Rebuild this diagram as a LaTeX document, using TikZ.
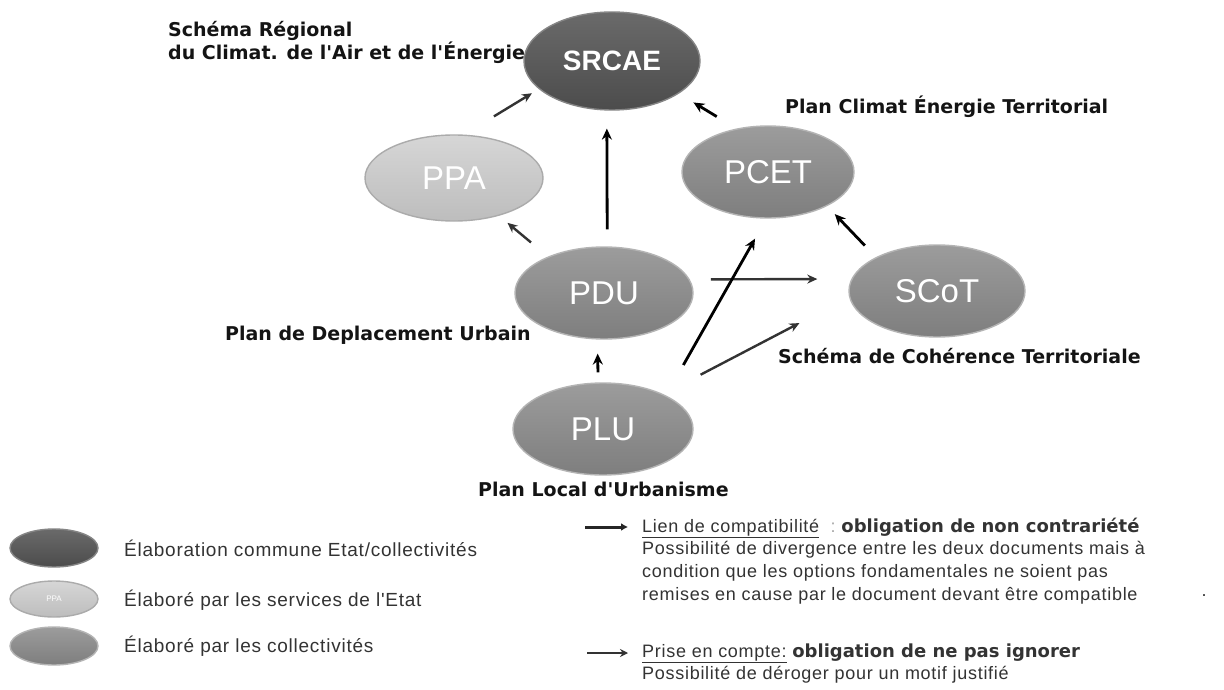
\documentclass[tikz,border=0pt]{standalone}
\usepackage{fontspec}
\setmainfont{Liberation Sans}
\newfontfamily\labfont{DejaVu Sans}
\newfontfamily\legfont{Liberation Sans}[LetterSpace=4]
\usetikzlibrary{shapes.geometric,arrows.meta}
\definecolor{ellDarkTop}{HTML}{6A6A6A}
\definecolor{ellDarkBot}{HTML}{4C4C4C}
\definecolor{ellDarkRim}{HTML}{858585}
\definecolor{ellMidTop}{HTML}{9C9C9C}
\definecolor{ellMidBot}{HTML}{7E7E7E}
\definecolor{ellMidRim}{HTML}{B4B4B4}
\definecolor{ellLightTop}{HTML}{D6D6D6}
\definecolor{ellLightBot}{HTML}{BDBDBD}
\definecolor{ellLightRim}{HTML}{ABABAB}
\definecolor{legText}{HTML}{333333}
\begin{document}
\begin{tikzpicture}[x=1pt,y=-1pt,
  ell/.style={ellipse, inner sep=0pt, text=white, line width=1.4pt},
  darkell/.style={ell, top color=ellDarkTop, bottom color=ellDarkBot, draw=ellDarkRim},
  midell/.style={ell, top color=ellMidTop, bottom color=ellMidBot, draw=ellMidRim},
  lightell/.style={ell, top color=ellLightTop, bottom color=ellLightBot, draw=ellLightRim},
  bigtxt/.style={font=\fontsize{33}{33}\selectfont},
  lab/.style={anchor=base west, inner sep=0pt, text=black!92, font=\labfont\bfseries\fontsize{19}{19}\selectfont},
  legtxt/.style={anchor=base west, inner sep=0pt, text=legText, font=\legfont\fontsize{18}{18}\selectfont},
  legtxtL/.style={anchor=base west, inner sep=0pt, text=legText, font=\legfont\fontsize{19}{19}\selectfont},
  compat/.style={line width=2.8pt, black, -{Stealth[length=11pt,width=10pt]}},
  prise/.style={line width=2.4pt, black!80, -{Stealth[length=10pt,width=9pt]}},
  legcompat/.style={line width=3pt, black!85, -{Latex[length=7pt,width=8pt]}},
  legprise/.style={line width=2.2pt, black!80, -{Stealth[length=8pt,width=8pt]}}
]
\useasboundingbox (0,0) rectangle (1224,690);
\fill[white] (0,0) rectangle (1224,690);

% main ellipses
\node[darkell, minimum width=176pt, minimum height=98pt] (SRCAE) at (612,61)
  {\bfseries\fontsize{28}{28}\selectfont SRCAE};
\node[lightell, minimum width=178pt, minimum height=86pt, bigtxt] (PPA) at (454,178) {PPA};
\node[midell, minimum width=172pt, minimum height=92pt, bigtxt] (PCET) at (768,172) {PCET};
\node[midell, minimum width=178pt, minimum height=92pt, bigtxt] (PDU) at (604,293) {PDU};
\node[midell, minimum width=176pt, minimum height=92pt, bigtxt] (SCoT) at (937,291) {SCoT};
\node[midell, minimum width=180pt, minimum height=92pt, bigtxt] (PLU) at (603,429) {PLU};

% labels
\node[lab] (lSR1) at (168,37) {Schéma Régional};
\node[lab] (lSR2) at (168,60) {du Climat. de l'Air et de l'Énergie};
\node[lab] (lPCET) at (785,114) {Plan Climat Énergie Territorial};
\node[lab] (lPDU) at (225,340) {Plan de Deplacement Urbain};
\node[lab] (lSCoT) at (778,363) {Schéma de Cohérence Territoriale};
\node[lab] (lPLU) at (478,496) {Plan Local d'Urbanisme};

% connectors
\draw[prise, shorten <=35pt, shorten >=8pt] (PPA.77) -- (SRCAE.201);
\draw[compat, shorten <=23pt, shorten >=17pt] (PCET.126) -- (SRCAE.334);
\draw[compat, shorten <=17pt, shorten >=18pt] (PDU.86) -- (SRCAE.264);
\draw[prise, shorten <=22pt, shorten >=11pt] (PDU.147) -- (PPA.320);
\draw[compat, shorten <=16pt, shorten >=11pt] (SCoT.151) -- (PCET.330);
\draw[prise, shorten <=21pt, shorten >=34pt] (PDU.9) -- (SCoT.172);
\draw[compat, shorten <=35pt, shorten >=23pt] (PLU.28) -- (PCET.268);
\draw[prise, shorten <=42pt, shorten >=56pt] (PLU.30) -- (SCoT.184);
\draw[compat, shorten <=10pt, shorten >=14pt] (PLU.96) -- (PDU.262);

% legend left
\node[darkell, minimum width=88pt, minimum height=38pt] (lgA) at (54,548) {};
\node[lightell, minimum width=88pt, minimum height=36pt] (lgB) at (54,599) {\fontsize{8}{8}\selectfont PPA};
\node[midell, minimum width=88pt, minimum height=38pt] (lgC) at (54,646) {};
\node[legtxtL] (tA) at (124,556) {Élaboration commune  Etat/collectivités};
\node[legtxtL] (tB) at (124,606) {Élaboré par les services de  l'Etat};
\node[legtxtL] (tC) at (124,652) {Élaboré par les collectivités};

% legend right
\coordinate (cA0) at (585,527);
\coordinate (cA1) at (628,527);
\draw[legcompat] (cA0) -- (cA1);
\node[legtxt] (tL1) at (642,532) {\underline{Lien de compatibilité}\ \ \textcolor{black!35}{:}\ {\labfont\bfseries obligation de non contrariété}};
\node[legtxt] (tL2) at (642,554) {Possibilité de divergence entre les deux documents mais à};
\node[legtxt] (tL3) at (642,577) {condition que les options fondamentales ne soient pas};
\node[legtxt] (tL4) at (642,600) {remises en cause par le document devant être compatible};
\node[inner sep=0pt, text=legText, font=\fontsize{18}{18}\selectfont] (dot) at (1204,596) {.};
\coordinate (cB0) at (587,653);
\coordinate (cB1) at (628,653);
\draw[legprise] (cB0) -- (cB1);
\node[legtxt] (tP1) at (642,657) {\underline{Prise en compte:}\ {\labfont\bfseries obligation de ne pas ignorer}};
\node[legtxt] (tP2) at (642,679) {Possibilité de déroger pour un motif justifié};
\end{tikzpicture}
\end{document}
